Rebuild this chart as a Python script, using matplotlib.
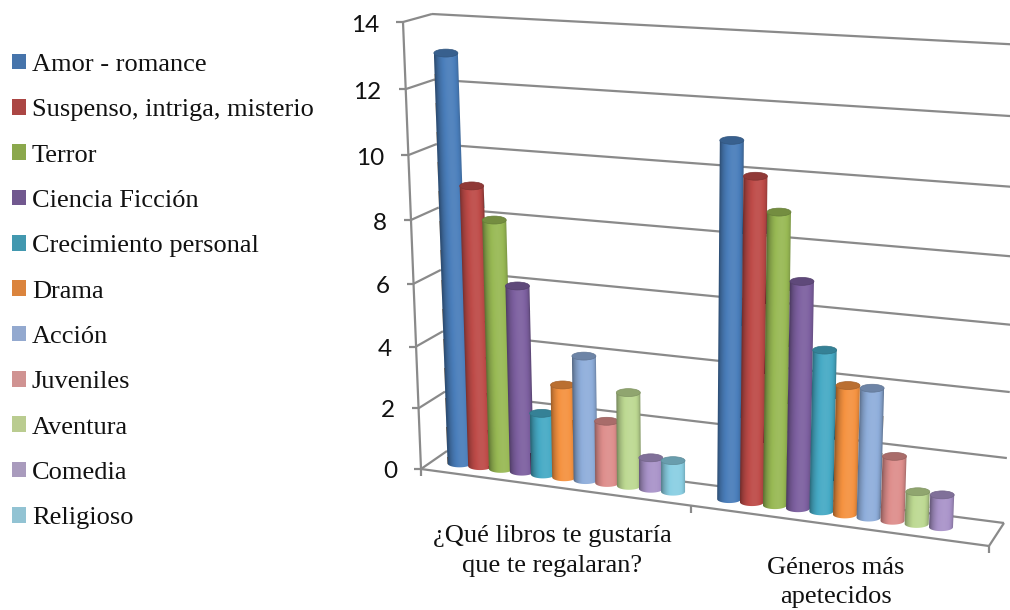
import numpy as np
import matplotlib
matplotlib.use("Agg")
import matplotlib.pyplot as plt
from matplotlib.patches import Ellipse, Patch, PathPatch
from matplotlib.path import Path
from matplotlib.transforms import Affine2D

series = ["Amor - romance", "Suspenso, intriga, misterio", "Terror", "Ciencia Ficción",
          "Crecimiento personal", "Drama", "Acción", "Juveniles", "Aventura", "Comedia",
          "Religioso"]
regalo = [13, 9, 8, 6, 2, 3, 4, 2, 3, 1, 1]
apetecidos = [11, 10, 9, 7, 5, 4, 4, 2, 1, 1, None]
categories = ["¿Qué libros te gustaría\nque te regalaran?", "Géneros más\napetecidos"]
ticks = [0, 2, 4, 6, 8, 10, 12, 14]

colors = ["#4A7EBB", "#BE4B48", "#98B954", "#7D60A0", "#46AAC5", "#F59240",
          "#8FAEDB", "#DE8E8C", "#BDD992", "#A993C9", "#8ACFE3"]
swatches = ["#4674AB", "#AB4644", "#8BA84C", "#71588F", "#4298AF", "#DB843D",
            "#93A9CF", "#D09392", "#BACC90", "#A99BBD", "#92C3D3"]

# box corners on screen: (front/back, left/right, bottom/top)
corners = {
    (0, 0, 0): (421, 469), (0, 0, 1): (403, 22),
    (1, 0, 0): (447, 451), (1, 0, 1): (432, 14),
    (0, 1, 0): (989, 546), (0, 1, 1): (1011, 62),
    (1, 1, 0): (1004, 523), (1, 1, 1): (1025, 45),
}
n_units = 25.0    # 11 bars per group plus a 1.5 bar gap, two groups
v_max = 14.0


def project(u, depth, v):
    # maps axis position, depth and value to screen pixels, with a bit of foreshortening
    t = u / n_units
    s = t / (1 + 0.107 * (1 - t))
    r = v / v_max
    h = r / (1 + 0.06 * (1 - r))
    x = y = 0.0
    for (d, a, b), (cx, cy) in corners.items():
        w = (depth if d else 1 - depth) * (s if a else 1 - s) * (h if b else 1 - h)
        x += w * cx
        y += w * cy
    return x, y


def seg(ax, p, q, lw=1.6):
    ax.plot([p[0], q[0]], [p[1], q[1]], color="#8a8a8a", lw=lw, zorder=1,
            solid_capstyle="butt")


def shade(color, f):
    rgb = np.array(matplotlib.colors.to_rgb(color))
    f = np.asarray(f)[..., None]
    return np.where(f <= 1, rgb * f, rgb + (1 - rgb) * (f - 1))


def cylinder(ax, u, value, color, z):
    bx, by = project(u, 0.5, 0)
    tx, ty = project(u, 0.5, value)
    rx = 12.0
    ry = rx * 0.33

    # horizontal gradient sheared along the lean of the bar
    c = np.linspace(-1, 1, 64)
    theta = np.arccos(c)
    tone = 0.62 + 0.44 * np.clip(np.sin(np.pi - theta - 0.2), 0, 1) ** 1.2
    img = shade(color, tone)[None, :, :]
    lean = (tx - bx) / (ty - by)
    height = ty - by - 4 * ry
    cx, cy = (tx + bx) / 2, (ty + by) / 2
    skew = Affine2D.from_values(2 * rx, 0, lean * height, height,
                                cx - rx - lean * height / 2, cy - height / 2)
    im = ax.imshow(img, extent=(0, 1, 0, 1), aspect="auto", interpolation="bilinear",
                   transform=skew + ax.transData, zorder=z)

    arc = np.linspace(np.pi, 0, 31)
    outline = [(bx + rx * np.cos(a), by + ry * np.sin(a)) for a in arc]
    outline += [(tx + rx, ty), (tx - rx, ty), (bx - rx, by)]
    clip = PathPatch(Path(outline), transform=ax.transData)
    im.set_clip_path(clip)
    ax.add_patch(Ellipse((tx, ty), 2 * rx, 2 * ry, facecolor=shade(color, 0.76),
                         edgecolor=shade(color, 0.68), lw=0.5, zorder=z + 0.1))


fig = plt.figure(figsize=(10.1, 6.1), dpi=100)
ax = fig.add_axes([0, 0, 1, 1])
ax.set_xlim(0, 1010)
ax.set_ylim(610, 0)
ax.axis("off")

# walls and floor
for v in ticks:
    seg(ax, project(0, 0, v), project(0, 1, v))
    seg(ax, project(0, 1, v), project(n_units, 1, v))
    x, y = project(0, 0, v)
    seg(ax, (x - 7, y), (x, y))
    ax.text(x - 24, y + 2.5 + v * 0.1, str(v), ha="right", va="center",
            fontsize=17.5, family="Lato", color="#111111")
seg(ax, project(0, 0, 0), project(0, 0, v_max))
seg(ax, project(0, 0, 0), project(n_units, 0, 0))
seg(ax, project(n_units, 0, 0), project(n_units, 1, 0))
for u in [0, n_units / 2, n_units]:
    x, y = project(u, 0, 0)
    seg(ax, (x, y), (x, y + 7))

# bars, later series overlap earlier ones
for g, values in enumerate([regalo, apetecidos]):
    for i, value in enumerate(values):
        if value is None:
            continue
        u = g * n_units / 2 + 1.25 + i
        cylinder(ax, u, value, colors[i], 2 + g * 20 + i)

for g, label in enumerate(categories):
    x, _ = project((g + 0.5) * n_units / 2, 0, 0)
    ax.text(x, [551, 582.5][g], label, ha="center", va="center", fontsize=19,
            family="Liberation Serif", color="#111111", linespacing=1.45)

handles = [Patch(facecolor=c, edgecolor="none", label=s) for c, s in zip(swatches, series)]
ax.legend(handles=handles, loc="upper left", bbox_to_anchor=(0.012, 0.912), frameon=False,
          prop={"family": "Liberation Serif", "size": 19}, labelspacing=0.88,
          handlelength=0.53, handleheight=0.53, handletextpad=0.22, borderpad=0,
          borderaxespad=0, labelcolor="#111111")

ax.set_xlim(0, 1010)
ax.set_ylim(610, 0)
fig.savefig("out.png", dpi=100)
